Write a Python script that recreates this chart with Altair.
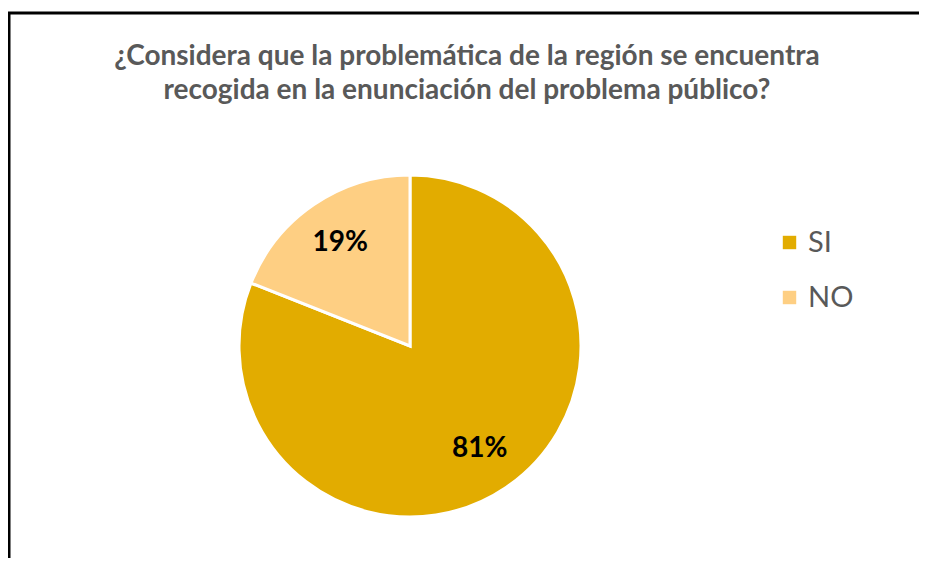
import altair as alt
import pandas as pd

categories = ["SI", "NO"]
values = [81, 19]
labels = ["81%", "19%"]
colors = ["#E2AC00", "#FECF83"]

title_lines = [
    "¿Considera que la problemática de la región se encuentra",
    "recogida en la enunciación del problema público?",
]

df = pd.DataFrame({
    "cat": categories,
    "val": values,
    "lab": labels,
    "idx": list(range(len(categories))),
})

CX, CY = 402, 338

base = alt.Chart(df).encode(
    theta=alt.Theta("val:Q", stack=True),
    order=alt.Order("idx:Q"),
)

pie = base.mark_arc(outerRadius=171, stroke="white", strokeWidth=3).encode(
    x=alt.value(CX),
    y=alt.value(CY),
    color=alt.Color(
        "cat:N",
        scale=alt.Scale(domain=categories, range=colors),
        legend=alt.Legend(
            title=None,
            orient="none",
            legendX=767,
            legendY=220,
            symbolType="square",
            symbolSize=180,
            symbolStrokeWidth=0,
            labelFontSize=29,
            labelFont="Lato",
            labelColor="#595959",
            labelOffset=4,
            rowPadding=25,
        ),
    ),
)

text = base.mark_text(
    radius=124, fontSize=28, fontWeight="bold", font="Lato", color="#000000"
).encode(
    x=alt.value(CX),
    y=alt.value(CY),
    text="lab:N",
)

one = pd.DataFrame({"k": [0]})
title = alt.Chart(one).mark_text(
    text=title_lines,
    font="Lato",
    fontSize=28,
    fontWeight="bold",
    color="#595959",
    lineHeight=34,
    align="center",
    baseline="alphabetic",
).encode(x=alt.value(459), y=alt.value(56.5))

top_line = alt.Chart(one).mark_rule(color="black", strokeWidth=3).encode(
    x=alt.value(0), x2=alt.value(911), y=alt.value(5)
)
left_line = alt.Chart(one).mark_rule(color="black", strokeWidth=3).encode(
    x=alt.value(1), y=alt.value(4), y2=alt.value(550)
)

chart = alt.layer(top_line, left_line, title, pie, text).properties(
    width=911,
    height=550,
    padding={"left": 0, "top": 0, "right": 0, "bottom": 0},
    autosize=alt.AutoSizeParams(type="none"),
).configure_view(stroke=None)

chart.save("out.html", embed_options={"renderer": "svg", "actions": False})
